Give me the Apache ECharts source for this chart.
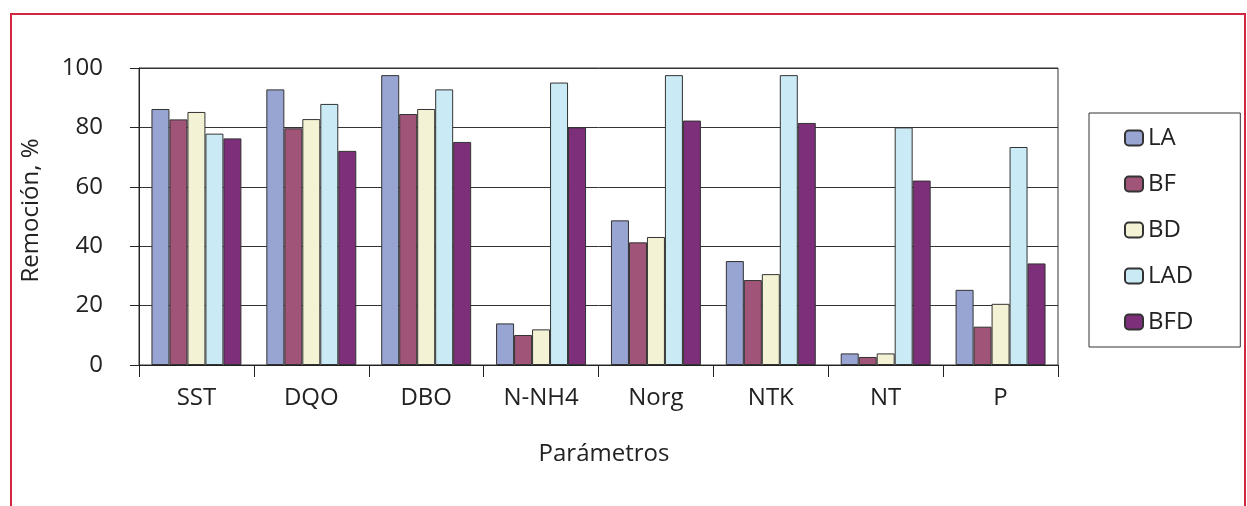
<!DOCTYPE html>
<html>
<head>
<meta charset="utf-8">
<script src="https://cdn.jsdelivr.net/npm/echarts@6/dist/echarts.min.js"></script>
<style>
  html, body { margin: 0; padding: 0; background: #ffffff; }
  #chart { width: 1247px; height: 506px; }
</style>
</head>
<body>
<div id="chart"></div>
<script>
// Parameters on the category axis
const categories = ['SST', 'DQO', 'DBO', 'N-NH4', 'Norg', 'NTK', 'NT', 'P'];

// Removal (%) per treatment
const LA  = [86.2, 92.8, 97.6, 14.0, 48.7, 35.0, 3.9, 25.3];
const BF  = [82.7, 79.7, 84.5, 10.1, 41.3, 28.6, 2.7, 12.9];
const BD  = [85.2, 82.8, 86.2, 12.0, 43.1, 30.6, 3.9, 20.6];
const LAD = [77.9, 87.9, 92.8, 95.1, 97.6, 97.6, 80.0, 73.4];
const BFD = [76.3, 72.1, 75.1, 80.0, 82.3, 81.5, 62.1, 34.2];

const yTicks = [0, 20, 40, 60, 80, 100];

const seriesDefs = [
  { name: 'LA',  data: LA,  color: '#98a4d2' },
  { name: 'BF',  data: BF,  color: '#a05478' },
  { name: 'BD',  data: BD,  color: '#f3f2d4' },
  { name: 'LAD', data: LAD, color: '#caeaf5' },
  { name: 'BFD', data: BFD, color: '#7e2f7a' }
];

const FONT = '"Open Sans", "Noto Sans", sans-serif';
const FS = 24;
const chart = echarts.init(document.getElementById('chart'), null, { renderer: 'canvas' });

chart.setOption({
  animation: false,
  backgroundColor: '#ffffff',
  textStyle: { fontFamily: FONT },
  graphic: [{
    type: 'rect',
    silent: true,
    shape: { x: 11, y: 14, width: 1234, height: 600 },
    style: { fill: 'none', stroke: '#d0263f', lineWidth: 2 }
  }],
  grid: {
    left: 139, top: 68, right: 189, bottom: 141,
    show: true, borderColor: '#333333', borderWidth: 1
  },
  legend: {
    orient: 'vertical',
    left: 1089, top: 113,
    padding: [13, 47, 13, 35],
    itemWidth: 18, itemHeight: 15,
    itemGap: 22,
    borderColor: '#333333', borderWidth: 1,
    textStyle: { fontFamily: FONT, fontSize: FS, color: '#222222' },
    data: seriesDefs.map(s => s.name)
  },
  xAxis: {
    type: 'category',
    data: categories,
    name: 'Parámetros',
    nameLocation: 'middle',
    nameGap: 77,
    nameTextStyle: { fontFamily: FONT, fontSize: FS, color: '#222222', padding: [0, 0, 0, 11] },
    axisLine: { lineStyle: { color: '#222222', width: 1 } },
    axisTick: { show: true, length: 12, lineStyle: { color: '#222222' } },
    axisLabel: { fontFamily: FONT, fontSize: FS, color: '#222222', margin: 21, interval: 0 }
  },
  yAxis: {
    type: 'value',
    min: yTicks[0], max: yTicks[yTicks.length - 1], interval: 20,
    name: 'Remoción, %',
    nameLocation: 'middle',
    nameGap: 96,
    nameTextStyle: { fontFamily: FONT, fontSize: FS, color: '#222222', padding: [0, 0, 0, 12] },
    axisLine: { show: true, lineStyle: { color: '#222222', width: 1 } },
    axisTick: { show: true, length: 9, lineStyle: { color: '#222222' } },
    axisLabel: { fontFamily: FONT, fontSize: FS, color: '#222222', margin: 36 },
    splitLine: { show: true, lineStyle: { color: '#333333', width: 1 } }
  },
  series: seriesDefs.map(s => ({
    name: s.name,
    type: 'bar',
    data: s.data,
    barGap: '0%',
    barCategoryGap: '21.7%',
    itemStyle: { color: s.color, borderColor: '#333333', borderWidth: 1 }
  }))
});
</script>
</body>
</html>
